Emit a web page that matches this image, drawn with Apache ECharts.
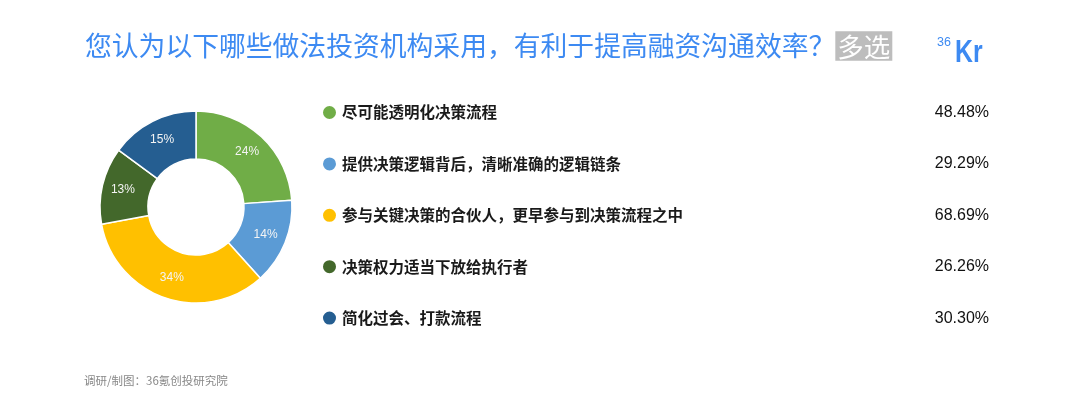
<!DOCTYPE html>
<html>
<head>
<meta charset="utf-8">
<script src="https://cdn.jsdelivr.net/npm/echarts@6/dist/echarts.min.js"></script>
<style>html,body{margin:0;padding:0;background:#fff;}#c{width:1080px;height:414px;}</style>
</head>
<body>
<div id="c"></div>
<script>
const titleText = '您认为以下哪些做法投资机构采用，有利于提高融资沟通效率？';
const badgeText = '多选';
const sourceText = '调研/制图：36氪创投研究院';
const categories = ['尽可能透明化决策流程', '提供决策逻辑背后，清晰准确的逻辑链条', '参与关键决策的合伙人，更早参与到决策流程之中', '决策权力适当下放给执行者', '简化过会、打款流程'];
const values = [48.48, 29.29, 68.69, 26.26, 30.30];
const colors = ['#70AD47', '#5B9BD5', '#FFC000', '#43682B', '#255E91'];

const chart = echarts.init(document.getElementById('c'));
const font = '"Noto Sans CJK SC", "Liberation Sans", sans-serif';
chart.setOption({
  backgroundColor: '#fff',
  animation: false,
  color: colors,
  title: {
    text: '{t|' + titleText + '}{b|' + badgeText + '}',
    left: 80, top: 24,
    textStyle: {
      fontWeight: 'normal',
      rich: {
        t: { fontSize: 26.8, fontWeight: 'normal', color: '#3D8AF2', fontFamily: font, lineHeight: 34 },
        b: { fontSize: 26.5, fontWeight: 'normal', color: '#fff', backgroundColor: '#BDBDBD', fontFamily: font, padding: [2, 2, 1, 2], lineHeight: 30 }
      }
    }
  },
  graphic: [
    { type: 'text', x: 937, y: 43, style: { text: '36', fontSize: 12.5, fill: '#3D8AF2', fontFamily: 'Liberation Sans', align: 'left', verticalAlign: 'middle' } },
    { type: 'text', x: 955, y: 53.5, scaleX: 0.8, style: { text: 'Kr', fontSize: 31, fontWeight: 'bold', fill: '#3D8AF2', fontFamily: 'Liberation Sans', align: 'left', verticalAlign: 'middle' } },
    { type: 'text', left: 84, top: 375, style: { text: sourceText, fontSize: 11.5, fill: '#888', fontFamily: font } }
  ],
  legend: {
    orient: 'vertical',
    left: 316, top: 99,
    icon: 'circle',
    itemWidth: 15, itemHeight: 15,
    itemGap: 34.4,
    data: categories,
    formatter: function (name) {
      const i = categories.indexOf(name);
      return '{n|' + name + '}{v|' + values[i].toFixed(2) + '%}';
    },
    textStyle: {
      rich: {
        n: { width: 567, fontSize: 15.5, fontWeight: 'bold', color: '#1a1a1a', fontFamily: font, lineHeight: 20 },
        v: { width: 80, align: 'right', fontSize: 16, color: '#111', fontFamily: 'Liberation Sans', lineHeight: 20 }
      }
    }
  },
  series: [{
    type: 'pie',
    center: [196, 207],
    radius: [48, 96],
    startAngle: 90,
    clockwise: true,
    data: categories.map((n, i) => ({ name: n, value: values[i] })),
    itemStyle: { borderColor: '#fff', borderWidth: 1.5 },
    label: {
      position: 'inside',
      formatter: p => Math.round(p.percent) + '%',
      color: '#f4f4f4', fontSize: 12, fontFamily: 'Liberation Sans'
    },
    labelLine: { show: false },
    emphasis: { disabled: true }
  }]
});
</script>
</body>
</html>
